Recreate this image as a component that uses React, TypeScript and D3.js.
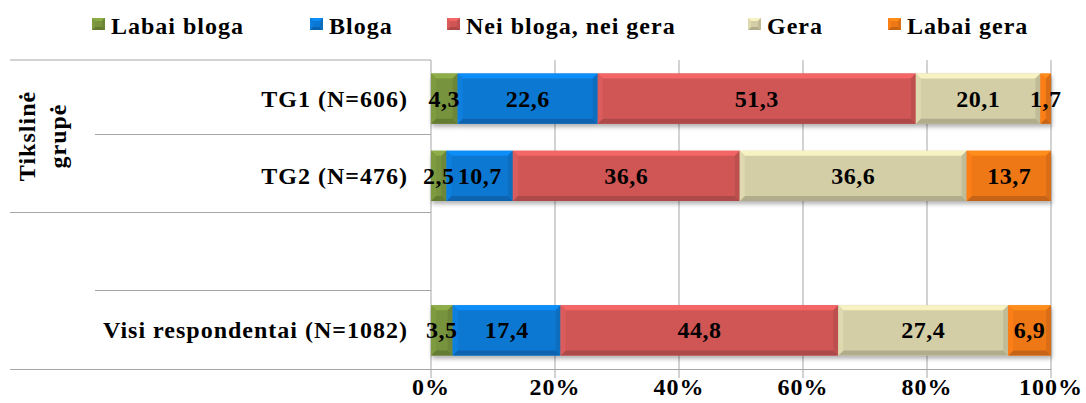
import React from 'react';
import * as d3 from 'd3';

// chart data
const categories = ['TG1 (N=606)', 'TG2 (N=476)', '', 'Visi respondentai (N=1082)'];
const seriesNames = ['Labai bloga', 'Bloga', 'Nei bloga, nei gera', 'Gera', 'Labai gera'];
const labaiBloga = [4.3, 2.5, null, 3.5];
const bloga = [22.6, 10.7, null, 17.4];
const neiBlogaNeiGera = [51.3, 36.6, null, 44.8];
const gera = [20.1, 36.6, null, 27.4];
const labaiGera = [1.7, 13.7, null, 6.9];
const xTicks = [0, 20, 40, 60, 80, 100];
const groupLabel = ['Tikslinė', 'grupė'];

const colors = ['#77933c', '#0a78d2', '#d05656', '#d3cea6', '#ee7816'];
const legendX = [92, 310, 447, 748, 888];

const W = 1086;
const H = 403;

const App = () => {
  const allSeries = [labaiBloga, bloga, neiBlogaNeiGera, gera, labaiGera];

  const x = d3.scaleLinear().domain([0, 100]).range([431, 1051]);
  const y = d3.scaleBand<string>()
    .domain(categories.map((c, i) => String(i)))
    .range([60, 369])
    .paddingInner(0.35)
    .paddingOuter(0.175);

  // build table for d3.stack
  const table = categories.map((c, i) => {
    const row: any = { key: String(i) };
    seriesNames.forEach((s, j) => { row[s] = allSeries[j][i] ?? 0; });
    return row;
  });
  const stacked = d3.stack<any>().keys(seriesNames)(table);

  const bevel = (x0: number, y0: number, w: number, h: number, color: string, key: string, bv = 5) => {
    const b = Math.min(bv, w / 2, h / 2);
    const c = d3.color(color)!;
    const top = c.brighter(0.45).formatHex();
    const bottom = c.darker(0.5).formatHex();
    const left = c.brighter(0.15).formatHex();
    const right = c.darker(0.25).formatHex();
    const pts = (p: number[][]) => p.map(q => q.join(',')).join(' ');
    return (
      <g key={key}>
        <rect x={x0} y={y0} width={w} height={h} fill={color} />
        <polygon points={pts([[x0, y0], [x0 + w, y0], [x0 + w - b, y0 + b], [x0 + b, y0 + b]])} fill={top} />
        <polygon points={pts([[x0, y0 + h], [x0 + w, y0 + h], [x0 + w - b, y0 + h - b], [x0 + b, y0 + h - b]])} fill={bottom} />
        <polygon points={pts([[x0, y0], [x0 + b, y0 + b], [x0 + b, y0 + h - b], [x0, y0 + h]])} fill={left} />
        <polygon points={pts([[x0 + w, y0], [x0 + w - b, y0 + b], [x0 + w - b, y0 + h - b], [x0 + w, y0 + h]])} fill={right} />
      </g>
    );
  };

  const gridColor = '#a6a6a6';
  const txt = { fontFamily: 'Liberation Serif', fontWeight: 'bold' as const, fontSize: 24, letterSpacing: 1 };
  const mid = (i: number) => y(String(i))! + y.bandwidth() / 2;

  return (
    <svg width={W} height={H} style={{ display: 'block', position: 'absolute', left: 0, top: 0 }}>
      <defs>
        <filter id="shadow" x="-5%" y="-20%" width="110%" height="150%">
          <feDropShadow dx="1" dy="3" stdDeviation="2" floodColor="#000" floodOpacity="0.3" />
        </filter>
      </defs>
      <rect width={W} height={H} fill="#fff" />

      {/* legend */}
      {seriesNames.map((s, j) => (
        <g key={s}>
          {bevel(legendX[j], 18, 13, 12, colors[j], 'lg' + j, 3)}
          <text x={legendX[j] + 19} y={34} style={txt} fill="#000">{s}</text>
        </g>
      ))}

      {/* vertical gridlines */}
      {xTicks.map(t => (
        <line key={t} x1={x(t)} x2={x(t)} y1={60} y2={378} stroke={gridColor} strokeWidth={1} />
      ))}

      {/* category separators */}
      <line x1={10} x2={431} y1={60} y2={60} stroke={gridColor} />
      <line x1={95} x2={431} y1={134.5} y2={134.5} stroke={gridColor} />
      <line x1={10} x2={431} y1={212.5} y2={212.5} stroke={gridColor} />
      <line x1={95} x2={431} y1={290.5} y2={290.5} stroke={gridColor} />
      <line x1={10} x2={1051} y1={369.5} y2={369.5} stroke={gridColor} />

      {/* group label */}
      <text transform="translate(35,136) rotate(-90)" textAnchor="middle" style={txt} fill="#000">
        <tspan x={0} dy={0}>{groupLabel[0]}</tspan>
        <tspan x={0} dy={31}>{groupLabel[1]}</tspan>
      </text>

      {/* category labels */}
      {categories.map((c, i) => (
        <text key={i} x={408} y={mid(i) + 8} textAnchor="end" style={txt} fill="#000">{c}</text>
      ))}

      {/* bars */}
      <g filter="url(#shadow)">
        {stacked.map((layer, j) => layer.map((d, i) => {
          if (allSeries[j][i] == null) return null;
          const x0 = x(d[0]);
          const x1 = Math.min(x(d[1]), x(100));
          return bevel(x0, y(String(i))!, x1 - x0, y.bandwidth(), colors[j], `b${j}-${i}`);
        }))}
      </g>

      {/* data labels */}
      {stacked.map((layer, j) => layer.map((d, i) => {
        const v = allSeries[j][i];
        if (v == null) return null;
        return (
          <text key={`t${j}-${i}`} x={(x(d[0]) + x(d[1])) / 2} y={mid(i) + 8}
            textAnchor="middle" style={{ ...txt, letterSpacing: 0.5 }} fill="#000">
            {d3.format('.1f')(v).replace('.', ',')}
          </text>
        );
      }))}

      {/* x tick labels */}
      {xTicks.map(t => (
        <text key={t} x={x(t)} y={395} textAnchor="middle" style={txt} fill="#000">{t}%</text>
      ))}
    </svg>
  );
};

export default App;
